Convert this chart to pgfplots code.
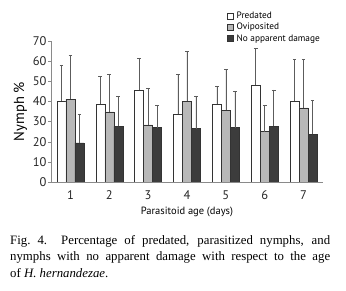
\documentclass[border=0pt]{standalone}
\usepackage{fontspec}
\setmainfont{PT Sans}
\newfontfamily\capfont{Liberation Serif}
\usepackage{pgfplots}
\usepackage{pgfplotstable}
\pgfplotsset{compat=1.18}
\definecolor{edge}{HTML}{333333}
\definecolor{ovi}{HTML}{B8B8B8}
\definecolor{nod}{HTML}{3C3C3C}
\definecolor{axgray}{HTML}{8A8A8A}
\pgfplotstableread{
x y e
1 40.2 17.9
2 38.7 13.6
3 45.7 15.9
4 33.8 19.5
5 38.7 9.0
6 48.0 18.2
7 40.2 20.7
}\pred
\pgfplotstableread{
x y e
1 41.2 21.5
2 34.8 18.8
3 28.3 18.4
4 40.2 24.7
5 35.6 20.4
6 25.0 13.1
7 36.8 24.1
}\ovip
\pgfplotstableread{
x y e
1 19.4 14.4
2 27.6 14.9
3 27.0 11.2
4 26.5 16.2
5 27.0 18.2
6 27.8 17.9
7 23.7 17.0
}\nodam
\begin{document}
\begin{tikzpicture}
\useasboundingbox (-51pt,-109pt) rectangle (295pt,182pt);
\begin{axis}[
  at={(0pt,0pt)}, anchor=south west,
  scale only axis, width=272pt, height=141pt,
  ybar=0pt, bar width=9pt,
  xmin=0.5, xmax=7.5, ymin=0, ymax=70,
  axis lines=left,
  axis line style={axgray, -},
  xtick={1,...,7},
  minor xtick={1.5,2.5,...,6.5},
  xtick style={draw=none},
  minor tick length=2.5pt,
  minor x tick style={axgray},
  ytick={0,10,...,70},
  ytick style={axgray},
  tick align=outside,
  major tick length=2.5pt,
  /pgf/number format/assume math mode=true,
  tick label style={font=\fontsize{12.5}{14}\selectfont, text=black!85},
  yticklabel style={xshift=1.5pt},
  xticklabel style={yshift=-3pt},
  ylabel={Nymph \%},
  ylabel style={font=\fontsize{14.5}{16}\selectfont, yshift=-1pt},
  xlabel={Parasitoid age (days)},
  xlabel style={font=\fontsize{10.5}{12}\selectfont, yshift=0pt},
  legend style={draw=none, fill=none, at={(176pt,139pt)}, anchor=south west,
    font=\fontsize{9.3}{10}\selectfont, row sep=3.3pt, inner sep=0pt,
    nodes={inner xsep=3pt, inner ysep=0pt}},
  legend cell align=left,
  legend image code/.code={\draw[#1] (0pt,-3pt) rectangle (6pt,3pt);},
  error bars/y dir=plus, error bars/y explicit,
  error bars/error bar style={edge!80, line width=0.5pt},
  error bars/error mark options={rotate=90, mark size=1.8pt, edge!80, line width=0.5pt},
]
\addplot[draw=edge, fill=white, line width=0.5pt] table[x=x, y=y, y error=e] {\pred};
\addplot[draw=edge, fill=ovi, line width=0.5pt] table[x=x, y=y, y error=e] {\ovip};
\addplot[draw=edge, fill=nod, line width=0.5pt] table[x=x, y=y, y error=e] {\nodam};
\legend{Predated, Oviposited, No apparent damage}
\end{axis}
\node[anchor=north west, text width=320pt, align=justify, inner sep=0pt,
  font=\capfont\fontsize{12.8}{16.5}\selectfont] at (-41pt,-53pt)
  {Fig.~4.\ \ Percentage of predated, parasitized nymphs, and\linebreak nymphs with no apparent damage with respect to the age\linebreak of \textit{H.~hernandezae}.};
\end{tikzpicture}
\end{document}
